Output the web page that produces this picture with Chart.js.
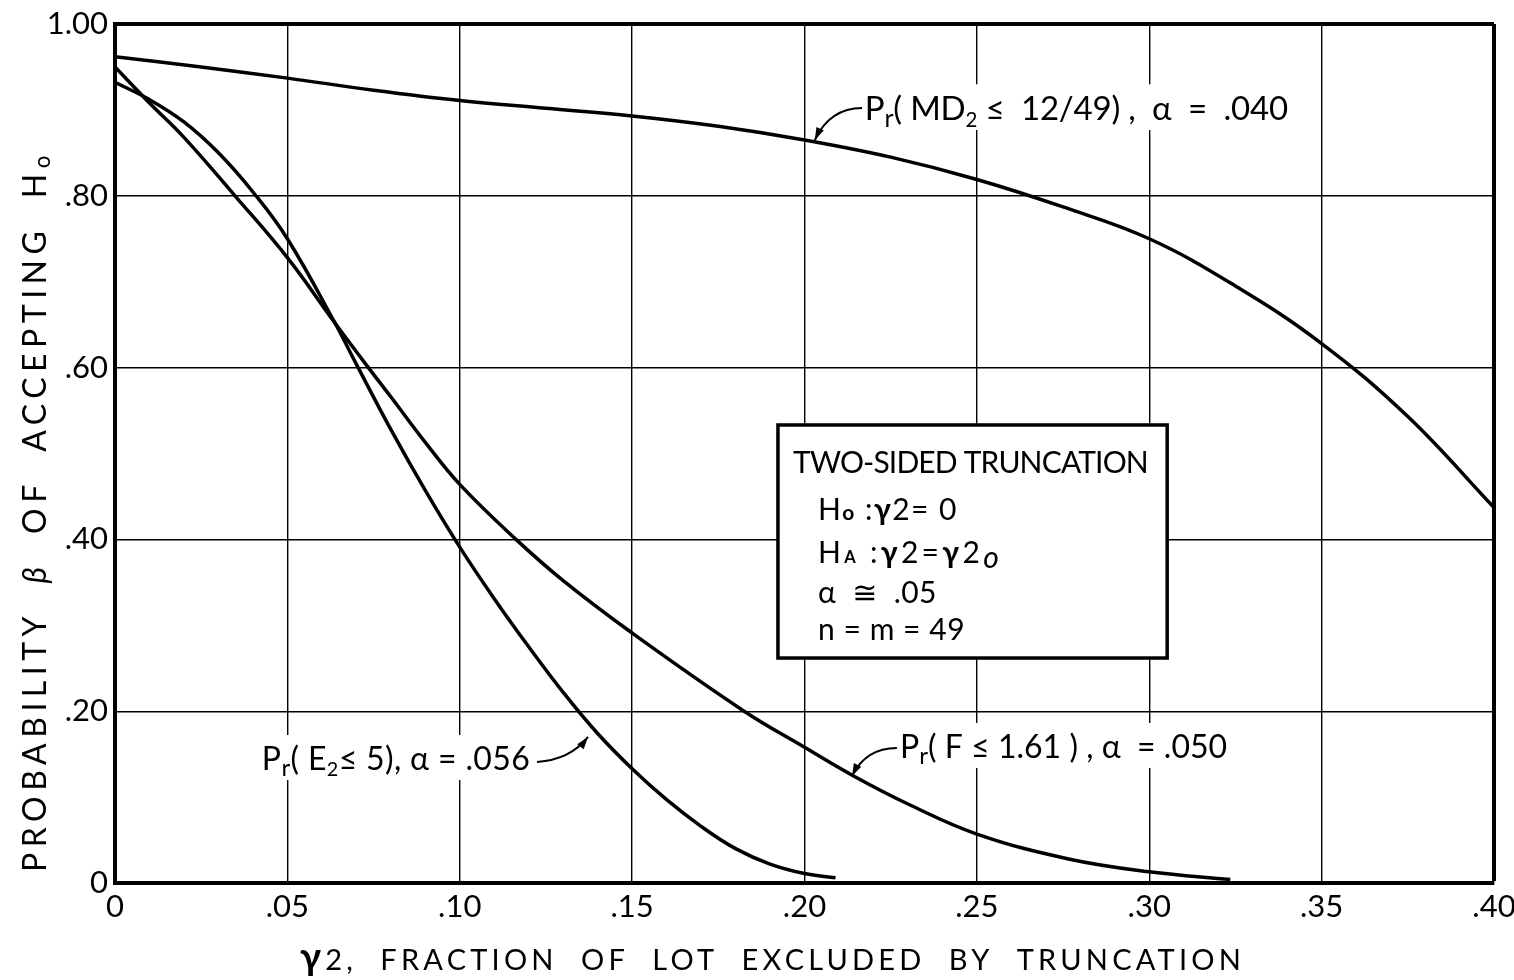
<!DOCTYPE html>
<html>
<head>
<meta charset="utf-8">
<script src="https://cdn.jsdelivr.net/npm/chart.js@4.4.1/dist/chart.umd.min.js"></script>
<style>
  html, body { margin: 0; padding: 0; background: #fff; }
</style>
</head>
<body>
<canvas id="chart" width="1514" height="980"></canvas>
<script>
// values
const xTicks = [0, 0.05, 0.10, 0.15, 0.20, 0.25, 0.30, 0.35, 0.40];
const yTicks = [0, 0.20, 0.40, 0.60, 0.80, 1.00];

// Pr(MD2 <= 12/49), alpha = .040
const mdX = [0, 0.025, 0.05, 0.075, 0.10, 0.125, 0.15, 0.175, 0.20, 0.225, 0.25, 0.275, 0.30, 0.325, 0.35, 0.375, 0.40];
const mdY = [0.962, 0.950, 0.937, 0.923, 0.911, 0.902, 0.893, 0.881, 0.865, 0.845, 0.819, 0.787, 0.750, 0.695, 0.628, 0.543, 0.437];

// Pr(E2 <= 5), alpha = .056
const e2X = [0, 0.01, 0.02, 0.03, 0.0403, 0.05, 0.0638, 0.07, 0.08, 0.09, 0.10, 0.11, 0.12, 0.13, 0.14, 0.15, 0.16, 0.17, 0.18, 0.19, 0.20, 0.209];
const e2Y = [0.932, 0.912, 0.886, 0.850, 0.803, 0.750, 0.652, 0.604, 0.528, 0.457, 0.391, 0.331, 0.275, 0.222, 0.174, 0.133, 0.097, 0.066, 0.040, 0.022, 0.011, 0.006];

// Pr(F <= 1.61), alpha = .050
const fX = [0, 0.01, 0.02, 0.0348, 0.05, 0.0638, 0.0735, 0.08, 0.09, 0.10, 0.1163, 0.13, 0.15, 0.1825, 0.20, 0.2145, 0.23, 0.25, 0.2766, 0.30, 0.3235];
const fY = [0.950, 0.908, 0.868, 0.800, 0.728, 0.652, 0.600, 0.566, 0.513, 0.464, 0.400, 0.352, 0.291, 0.200, 0.158, 0.124, 0.092, 0.057, 0.028, 0.013, 0.004];

const FONT = 'Lato, "DejaVu Sans", sans-serif';

function toPoints(xs, ys) {
    return xs.map((x, i) => ({ x: x, y: ys[i] }));
}

function fontOf(p, size) {
    const s = size * (p.scale || 1);
    return (p.italic ? 'italic ' : '') + (p.weight || 400) + ' ' + s.toFixed(1) + 'px ' + FONT;
}

// draws a row of text pieces (sub/superscripts), stretched to a given width
function drawParts(ctx, parts, x, y, size, width) {
    let natural = 0, count = 0;
    ctx.letterSpacing = '0px';
    for (const p of parts) {
        ctx.font = fontOf(p, size);
        natural += ctx.measureText(p.t).width;
        count += [...p.t].length;
    }
    const ls = width ? (width - natural) / count : 0;
    let cx = x;
    for (const p of parts) {
        ctx.font = fontOf(p, size);
        ctx.letterSpacing = ls.toFixed(2) + 'px';
        ctx.fillText(p.t, cx, y + (p.dy || 0) * size);
        ctx.letterSpacing = '0px';
        cx += ctx.measureText(p.t).width + ls * [...p.t].length;
    }
}

function arrow(ctx, x0, y0, cx, cy, x1, y1) {
    ctx.beginPath();
    ctx.moveTo(x0, y0);
    ctx.quadraticCurveTo(cx, cy, x1, y1);
    ctx.lineWidth = 2;
    ctx.stroke();
    const a = Math.atan2(y1 - cy, x1 - cx);
    const len = 13, half = 0.32;
    ctx.beginPath();
    ctx.moveTo(x1, y1);
    ctx.lineTo(x1 - len * Math.cos(a - half), y1 - len * Math.sin(a - half));
    ctx.lineTo(x1 - len * Math.cos(a + half), y1 - len * Math.sin(a + half));
    ctx.closePath();
    ctx.fill();
}

const SUB = { scale: 0.75, dy: 0.2 };

const labels = [
    {   // MD2 curve
        parts: [{ t: 'P' }, Object.assign({ t: 'r' }, SUB), { t: '( MD' }, { t: '2', scale: 0.62, dy: 0.2 },
                { t: ' ≤  12/49) ,  ' }, { t: 'α' }, { t: '  =  .040' }],
        x0: 0.2175, x1: 0.3402, base: 0.8882, size: 33,
        arrow: [0.2167, 0.9022, 0.2074, 0.9022, 0.2030, 0.8650]
    },
    {   // E2 curve
        parts: [{ t: 'P' }, Object.assign({ t: 'r' }, SUB), { t: '( E' }, { t: '2', scale: 0.62, dy: 0.2 },
                { t: '≤ 5), ' }, { t: 'α' }, { t: ' = .056' }],
        x0: 0.0426, x1: 0.1204, base: 0.1315, size: 32,
        arrow: [0.1224, 0.1409, 0.1320, 0.1432, 0.1372, 0.1700]
    },
    {   // F curve
        parts: [{ t: 'P' }, Object.assign({ t: 'r' }, SUB), { t: '( F ≤ 1.61 ) , ' }, { t: 'α' }, { t: '  = .050' }],
        x0: 0.2277, x1: 0.3226, base: 0.1455, size: 32,
        arrow: [0.2268, 0.1572, 0.2178, 0.1572, 0.2138, 0.1246]
    }
];

const boxLines = [
    { parts: [{ t: 'TWO-SIDED TRUNCATION' }], x0: 0.1967, x1: 0.2996, base: 0.4773 },
    { parts: [{ t: 'H' }, { t: 'o', scale: 0.7, weight: 700 }, { t: ' :' }, { t: 'γ', weight: 700 }, { t: '2= 0' }],
      x0: 0.2039, x1: 0.2445, base: 0.4226 },
    { parts: [{ t: 'H' }, { t: 'A', scale: 0.55, weight: 700 }, { t: ' :' }, { t: 'γ', weight: 700 }, { t: '2=' },
              { t: 'γ', weight: 700 }, { t: '2' }, { t: 'o', italic: true, dy: 0.15 }],
      x0: 0.2039, x1: 0.2573, base: 0.3725 },
    { parts: [{ t: 'α' }, { t: '  ≅  .05' }], x0: 0.2039, x1: 0.2384, base: 0.3260 },
    { parts: [{ t: 'n = m = 49' }], x0: 0.2039, x1: 0.2466, base: 0.2829 }
];
const box = { left: 0.1923, right: 0.3052, top: 0.5332, bottom: 0.2619 };

const xTitle = [{ t: 'γ', scale: 1.3, weight: 700 }, { t: '2,  FRACTION  OF  LOT  EXCLUDED  BY  TRUNCATION' }];
const yTitle = [{ t: 'PROBABILITY  ' }, { t: 'β', italic: true }, { t: '  OF  ACCEPTING  H' }, { t: 'o', scale: 0.7, dy: 0.12 }];

const notes = {
    id: 'notes',
    afterDatasetsDraw(chart) {
        const ctx = chart.ctx;
        const sx = chart.scales.x, sy = chart.scales.y;
        const X = v => sx.getPixelForValue(v);
        const Y = v => sy.getPixelForValue(v);
        ctx.save();
        ctx.fillStyle = '#000';
        ctx.strokeStyle = '#000';
        ctx.textBaseline = 'alphabetic';
        ctx.textAlign = 'left';

        // curve labels on white patches
        for (const l of labels) {
            const x0 = X(l.x0), x1 = X(l.x1), b = Y(l.base);
            ctx.fillStyle = '#fff';
            ctx.fillRect(x0 - 5, b - l.size * 0.72 - 12, x1 - x0 + 10, l.size * 0.72 + 22);
            ctx.fillStyle = '#000';
            drawParts(ctx, l.parts, x0, b, l.size, x1 - x0);
            const a = l.arrow;
            arrow(ctx, X(a[0]), Y(a[1]), X(a[2]), Y(a[3]), X(a[4]), Y(a[5]));
        }

        // legend box
        const bl = X(box.left), br = X(box.right), bt = Y(box.top), bb = Y(box.bottom);
        ctx.fillStyle = '#fff';
        ctx.fillRect(bl, bt, br - bl, bb - bt);
        ctx.lineWidth = 3.5;
        ctx.strokeRect(bl, bt, br - bl, bb - bt);
        ctx.fillStyle = '#000';
        for (const l of boxLines) {
            drawParts(ctx, l.parts, X(l.x0), Y(l.base), 30, X(l.x1) - X(l.x0));
        }

        // axis titles
        drawParts(ctx, xTitle, 300, 970, 29, 945);
        ctx.translate(46, 872);
        ctx.rotate(-Math.PI / 2);
        drawParts(ctx, yTitle, 0, 0, 32, 722);
        ctx.restore();
    }
};

const lineStyle = {
    borderColor: '#000',
    borderWidth: 3.5,
    pointRadius: 0,
    fill: false,
    tension: 0.4
};

const tickFont = { family: FONT, size: 31, weight: 400 };

new Chart(document.getElementById('chart'), {
    type: 'line',
    data: {
        datasets: [
            Object.assign({ label: 'Pr(MD2 ≤ 12/49), α = .040', data: toPoints(mdX, mdY) }, lineStyle),
            Object.assign({ label: 'Pr(E2 ≤ 5), α = .056', data: toPoints(e2X, e2Y) }, lineStyle),
            Object.assign({ label: 'Pr(F ≤ 1.61), α = .050', data: toPoints(fX, fY) }, lineStyle)
        ]
    },
    options: {
        responsive: false,
        animation: false,
        layout: { padding: { top: 24, right: 20, left: 0, bottom: 0 } },
        plugins: { legend: { display: false }, tooltip: { enabled: false } },
        scales: {
            x: {
                type: 'linear',
                min: 0,
                max: 0.4,
                afterBuildTicks: s => { s.ticks = xTicks.map(v => ({ value: v })); },
                afterFit: s => { s.height = 97; s.paddingLeft = 0; s.paddingRight = 0; },
                ticks: {
                    color: '#000',
                    font: tickFont,
                    padding: 5,
                    maxRotation: 0,
                    autoSkip: false,
                    callback: v => v === 0 ? '0' : '.' + String(Math.round(v * 100)).padStart(2, '0')
                },
                grid: {
                    color: '#000',
                    drawTicks: false,
                    lineWidth: c => (c.tick && c.tick.value > 0.399) ? 4 : 1.4
                },
                border: { color: '#000', width: 4 }
            },
            y: {
                type: 'linear',
                min: 0,
                max: 1,
                afterBuildTicks: s => { s.ticks = yTicks.map(v => ({ value: v })); },
                afterFit: s => { s.width = 115; s.paddingTop = 0; s.paddingBottom = 0; },
                ticks: {
                    color: '#000',
                    font: tickFont,
                    padding: 7,
                    autoSkip: false,
                    callback: v => v === 0 ? '0' : (v > 0.999 ? '1.00' : '.' + String(Math.round(v * 100)).padStart(2, '0'))
                },
                grid: {
                    color: '#000',
                    drawTicks: false,
                    lineWidth: c => (c.tick && c.tick.value > 0.999) ? 4 : 1.4
                },
                border: { color: '#000', width: 4 }
            }
        }
    },
    plugins: [notes]
});
</script>
</body>
</html>
